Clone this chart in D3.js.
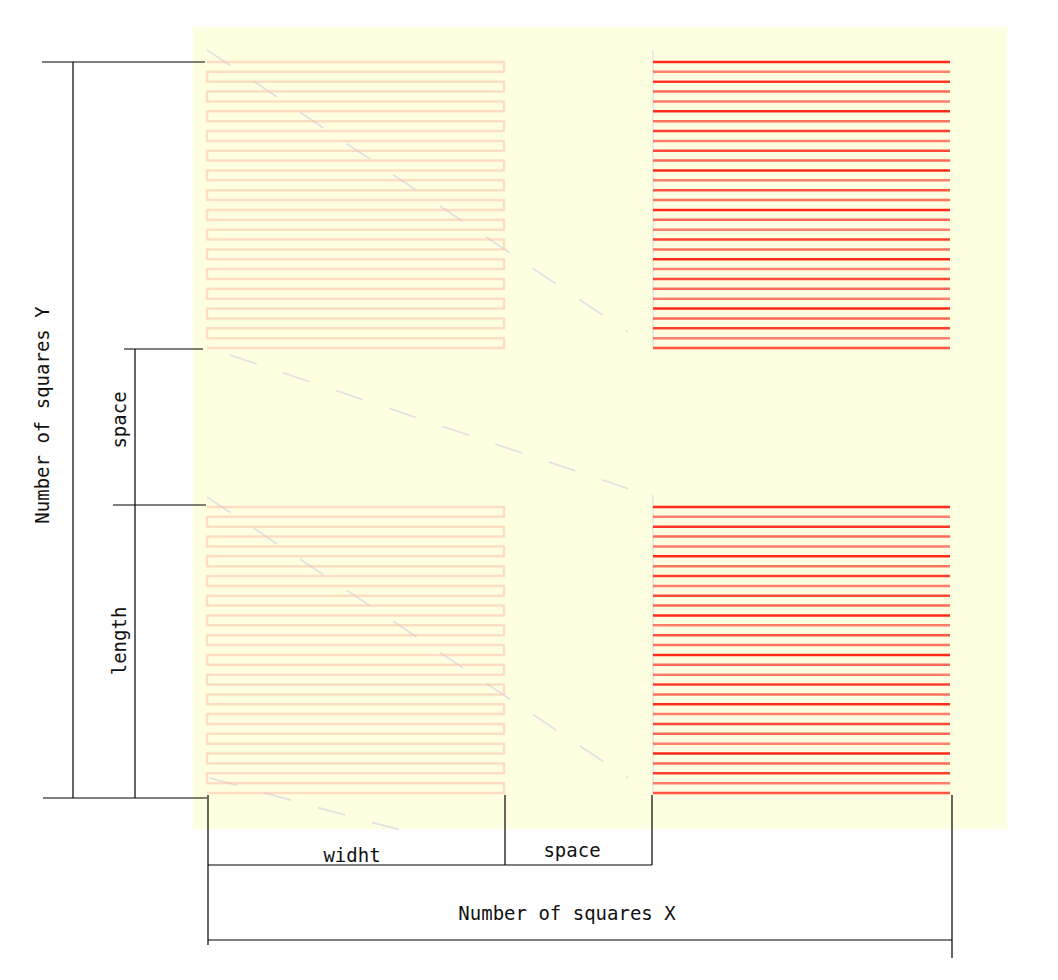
<!DOCTYPE html>
<html><head><meta charset="utf-8">
<script src="https://cdn.jsdelivr.net/npm/d3@7"></script>
<style>body{margin:0;background:#fff}text{font-family:"DejaVu Sans Mono",monospace;font-size:19px;fill:#111}</style>
</head><body><svg width="1058" height="980"></svg>
<script>
// Bloques del diagrama (columna, fila) y número de filas por bloque
const blocks = [
  {col: 0, row: 0, kind: "meander"},
  {col: 1, row: 0, kind: "lines"},
  {col: 0, row: 1, kind: "meander"},
  {col: 1, row: 1, kind: "lines"}
];
const rowsPerBlock = 30;
// intensidad de cada línea roja
const redOpacity = [1,.6,.95,.7,.6,1,.65,.9,.6,.85,.7,1,.6,.8,.65,1,.7,.6,.9,.65,1,.6,.85,.7,.6,1,.7,.9,.6,.8];

const svg = d3.select("svg");

// Escalas: posición de bloques y filas
const colX = d3.scaleOrdinal().domain([0, 1]).range([207, 653]);
const rowY = d3.scaleOrdinal().domain([0, 1]).range([62, 507]);
const blockW = 297;
const lineY = d3.scaleLinear().domain([0, rowsPerBlock - 1]).range([0, 286]);

// fondo amarillo
svg.append("rect").attr("x", 193).attr("y", 27).attr("width", 814).attr("height", 802).attr("fill", "#fefee0");

// líneas discontinuas grises
const dashes = [[207,50,628,332],[230,355,653,497],[207,497,628,778],[210,778,400,830]];
svg.selectAll(".dash").data(dashes).enter().append("line")
  .attr("x1", d => d[0]).attr("y1", d => d[1]).attr("x2", d => d[2]).attr("y2", d => d[3])
  .attr("stroke", "#e2e2e2").attr("stroke-width", 1.8).attr("stroke-dasharray", "28,28");

blocks.forEach(b => {
  const x0 = colX(b.col), y0 = rowY(b.row);
  const idx = d3.range(rowsPerBlock);
  if (b.kind === "meander") {
    const pts = [];
    idx.forEach(i => {
      const y = y0 + lineY(i);
      if (i % 2 === 0) pts.push([x0, y], [x0 + blockW, y]);
      else pts.push([x0 + blockW, y], [x0, y]);
    });
    svg.append("path").attr("d", d3.line()(pts))
      .attr("fill", "none").attr("stroke", "#ffb8a0").attr("stroke-opacity", 0.45)
      .attr("stroke-width", 2.5).attr("stroke-linejoin", "round");
  } else {
    svg.append("line").attr("x1", x0).attr("x2", x0).attr("y1", y0 - 12).attr("y2", y0 + 286)
      .attr("stroke", "#e4e4e4").attr("stroke-width", 1.5);
    svg.selectAll(null).data(idx).enter().append("line")
      .attr("x1", x0).attr("x2", x0 + blockW)
      .attr("y1", i => y0 + lineY(i)).attr("y2", i => y0 + lineY(i))
      .attr("stroke", "#ff2a1a").attr("stroke-opacity", i => redOpacity[i])
      .attr("stroke-width", 2.5);
  }
});

// líneas de cota
const dims = [
  [42,62,205,62],[73,62,73,798],[43,798,207,798],
  [124,349,203,349],[135,349,135,505],[113,505,206,505],[135,505,135,798],
  [208,795,208,945],[505,795,505,865],[652,795,652,865],[952,795,952,958],
  [208,865,652,865],[208,940,952,940]
];
svg.selectAll(".dim").data(dims).enter().append("line")
  .attr("x1", d => d[0]).attr("y1", d => d[1]).attr("x2", d => d[2]).attr("y2", d => d[3])
  .attr("stroke", "#000").attr("stroke-width", 1.2);

const labels = [
  {t: "Number of squares Y", x: 49, y: 415, r: -90},
  {t: "space", x: 126, y: 420, r: -90},
  {t: "length", x: 126, y: 641, r: -90},
  {t: "widht", x: 352, y: 862, r: 0},
  {t: "space", x: 572, y: 857, r: 0},
  {t: "Number of squares X", x: 567, y: 920, r: 0}
];
svg.selectAll(".lbl").data(labels).enter().append("text")
  .attr("text-anchor", "middle")
  .attr("transform", d => `translate(${d.x},${d.y}) rotate(${d.r})`)
  .text(d => d.t);
</script></body></html>
